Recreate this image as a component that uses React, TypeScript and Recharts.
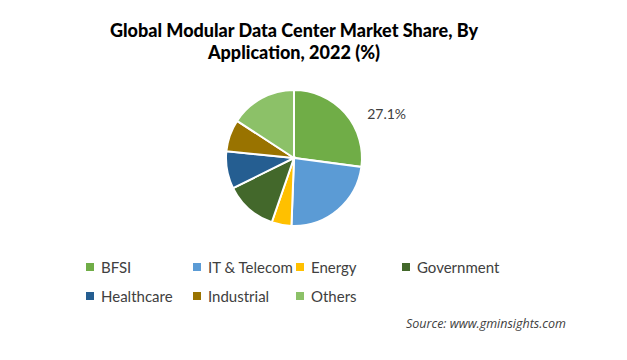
import React from "react";
import { PieChart, Pie, Cell, Legend } from "recharts";

const categories = ["BFSI", "IT & Telecom", "Energy", "Government", "Healthcare", "Industrial", "Others"];
const shares = [27.1, 23.5, 4.7, 12.4, 8.9, 7.6, 15.8];
const colors = ["#70AD47", "#5B9BD5", "#FFC000", "#43682B", "#255E91", "#997300", "#8CC168"];
const labelledIndex = 0;

const FONT = "Lato, 'Noto Sans', sans-serif";

const data = categories.map((name, i) => ({ name, value: shares[i] }));

const RAD = Math.PI / 180;

function renderLabel(props: any) {
  const { cx, cy, midAngle, outerRadius, index, value } = props;
  if (index !== labelledIndex) return null;
  const ex = cx + outerRadius * Math.cos(-midAngle * RAD);
  const ey = cy + outerRadius * Math.sin(-midAngle * RAD);
  return (
    <text x={ex + 22} y={ey} dominantBaseline="central" textAnchor="start" fill="#404040" fontSize={14} fontFamily={FONT}>
      {value.toFixed(1)}%
    </text>
  );
}

// legend rows: positions per entry like the source layout
const legendCols = [90, 197, 300, 406];

function LegendContent() {
  return (
    <div style={{ position: "relative", width: 627, height: 60, fontFamily: FONT, fontSize: 15, color: "#404040" }}>
      {categories.map((c, i) => {
        const row = i < 4 ? 0 : 1;
        const col = i < 4 ? i : i - 4;
        return (
          <div key={c} style={{ position: "absolute", left: legendCols[col] - 4, top: row * 29, display: "flex", alignItems: "center", whiteSpace: "nowrap" }}>
            <span style={{ width: 8, height: 8, background: colors[i], display: "inline-block", marginRight: 7 }} />
            <span>{c}</span>
          </div>
        );
      })}
    </div>
  );
}

export default function App() {
  return (
    <div style={{ position: "absolute", left: 0, top: 0, width: 627, height: 360, background: "#fff", fontFamily: FONT }}>
      <div style={{ position: "absolute", left: 0, top: 19, width: 588, textAlign: "center", fontWeight: 900, fontSize: 18, lineHeight: "22px", color: "#000" }}>
        Global Modular Data Center Market Share, By
        <br />
        Application, 2022 (%)
      </div>
      <PieChart width={627} height={360}>
        <Pie
          data={data}
          dataKey="value"
          nameKey="name"
          cx={289}
          cy={153}
          outerRadius={68}
          startAngle={90}
          endAngle={-270}
          stroke="#fff"
          strokeWidth={2}
          label={renderLabel}
          labelLine={false}
          isAnimationActive={false}
        >
          {data.map((d, i) => (
            <Cell key={d.name} fill={colors[i]} />
          ))}
        </Pie>
        <Legend content={<LegendContent />} wrapperStyle={{ position: "absolute", left: 0, top: 258, width: 627 }} />
      </PieChart>
      <div style={{ position: "absolute", left: 406, top: 315, fontSize: 12.5, fontStyle: "italic", color: "#404040", fontFamily: "'Open Sans', sans-serif" }}>
        Source: www.gminsights.com
      </div>
    </div>
  );
}
